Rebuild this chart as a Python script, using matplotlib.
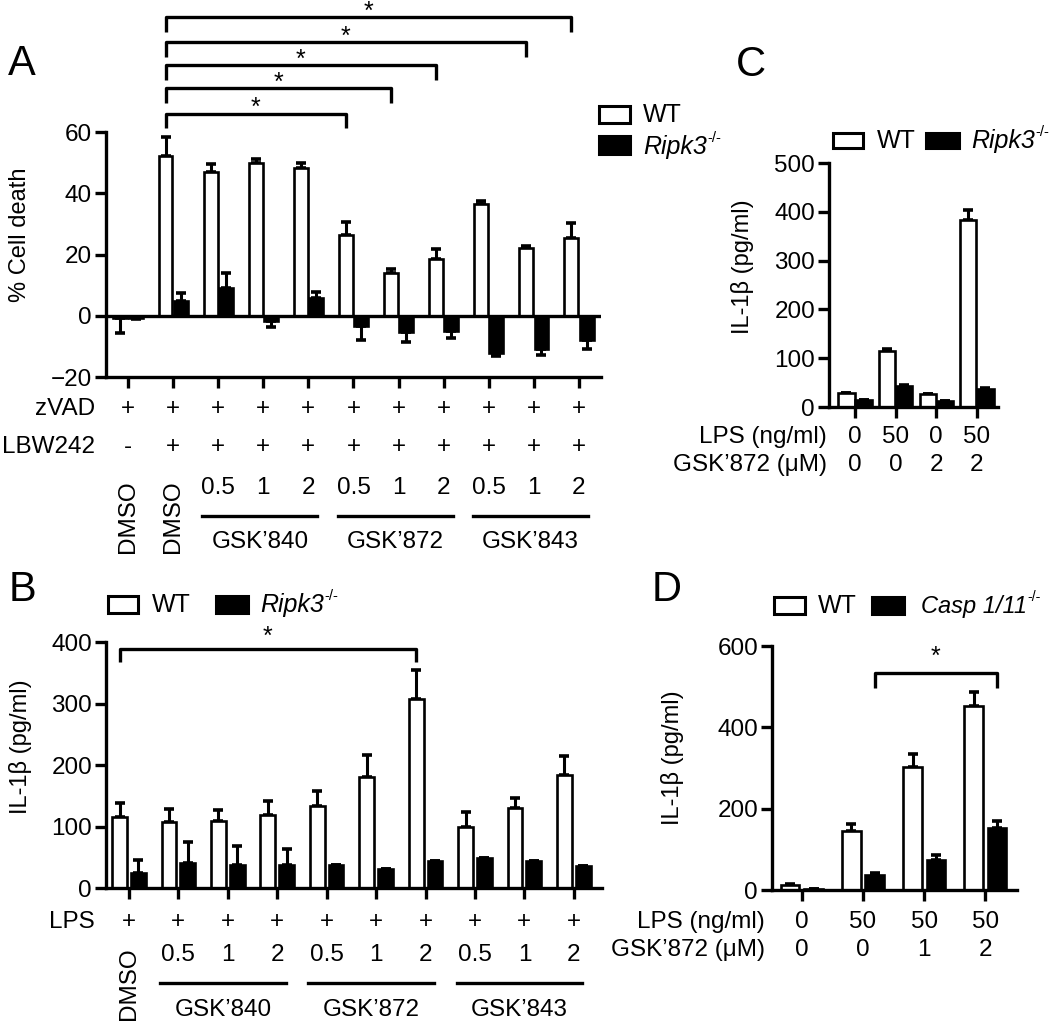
import matplotlib.pyplot as plt
from matplotlib.patches import Rectangle
from matplotlib.transforms import blended_transform_factory
import numpy as np

plt.rcParams['font.family'] = ['Liberation Sans', 'DejaVu Sans']

W, H = 1050, 1021

# ---- panel A: % cell death ----
a_wt = [-0.8, 52.2, 47.0, 50.0, 48.1, 26.4, 14.1, 18.5, 36.4, 22.0, 25.3]
a_wt_err = [4.7, 6.2, 2.4, 1.3, 1.9, 4.3, 1.1, 3.2, 1.1, 0.8, 5.1]
a_ko = [-0.7, 4.7, 9.1, -1.8, 5.8, -3.5, -5.3, -5.1, -12.2, -11.0, -7.8]
a_ko_err = [0.3, 2.8, 4.9, 1.8, 1.8, 4.3, 3.3, 2.2, 1.0, 1.7, 2.9]
a_zvad = ['+'] * 11
a_lbw = ['-'] + ['+'] * 10
a_dose = ['', '', '0.5', '1', '2', '0.5', '1', '2', '0.5', '1', '2']
a_brackets = [(1, 5, 66.0), (1, 6, 74.3), (1, 7, 81.8), (1, 9, 89.3), (1, 10, 97.5)]

# ---- panel B: IL-1b, inhibitors ----
b_wt = [115, 107, 109, 119, 133, 181, 308, 100, 130, 183]
b_wt_err = [24, 21, 18, 22, 25, 35, 46, 23, 17, 31]
b_ko = [25, 41, 37, 38, 37, 31, 44, 49, 44, 35]
b_ko_err = [20, 34, 32, 26, 0, 0, 0, 0, 0, 0]
b_lps = ['+'] * 10
b_dose = ['', '0.5', '1', '2', '0.5', '1', '2', '0.5', '1', '2']
b_brackets = [(0, 6, 389)]

# ---- panel C ----
c_wt = [29, 115, 26, 384]
c_wt_err = [0, 4, 0, 19]
c_ko = [14, 43, 12, 36]
c_ko_err = [0, 2, 0, 2]
c_lps = ['0', '50', '0', '50']
c_gsk = ['0', '0', '2', '2']

# ---- panel D ----
d_wt = [12, 145, 302, 453]
d_wt_err = [2, 18, 33, 33]
d_ko = [2, 37, 75, 153]
d_ko_err = [0, 4, 11, 17]
d_lps = ['0', '50', '50', '50']
d_gsk = ['0', '0', '1', '2']
d_brackets = [(1, 3, 534)]

groups = ["GSK\u2019840", "GSK\u2019872", "GSK\u2019843"]

TICK = 17.5
ROW = 17.5
YLAB = 17
LEG = 18
LET = 30
LW = 2.4

fig = plt.figure(figsize=(W / 100, H / 100), dpi=100)
renderer = fig.canvas.get_renderer()


def fx(px):
    return px / W


def fy(py):
    return 1 - py / H


def make_ax(left, right, top, bottom):
    ax = fig.add_axes([fx(left), fy(bottom), (right - left) / W, (bottom - top) / H])
    for s in ['top', 'right']:
        ax.spines[s].set_visible(False)
    for s in ['left', 'bottom']:
        ax.spines[s].set_linewidth(LW)
    ax.tick_params(axis='y', length=8, width=LW, labelsize=TICK, pad=2)
    ax.tick_params(axis='x', length=8, width=LW, labelbottom=False)
    ax.patch.set_alpha(0)
    return ax


def draw_bars(ax, wt, wt_err, ko, ko_err, off, width):
    x = np.arange(len(wt))
    for xs, vals, errs, fc in [(x - off, wt, wt_err, 'white'), (x + off, ko, ko_err, 'black')]:
        vals = np.array(vals, float)
        errs = np.array(errs, float)
        lower = np.where(vals < 0, errs, 0)
        upper = np.where(vals >= 0, errs, 0)
        ax.errorbar(xs, vals, yerr=[lower, upper], fmt='none', ecolor='black',
                    elinewidth=2.2, capsize=3.5, capthick=2.6, zorder=1)
        ax.bar(xs, vals, width, color=fc, edgecolor='black', linewidth=1.9, zorder=2)
    ax.set_xticks(x)


def bracket(ax, x1, x2, y, leg, star_dy):
    ax.plot([x1, x1, x2, x2], [y - leg, y, y, y - leg], color='black', lw=LW,
            clip_on=False, solid_capstyle='butt')
    ax.text((x1 + x2) / 2, y + star_dy, '*', ha='center', va='center', fontsize=18, clip_on=False)


def rows(ax, items, label_x):
    tr = blended_transform_factory(ax.transData, fig.transFigure)
    for py, title, vals in items:
        fig.text(fx(label_x), fy(py), title, ha='right', va='center', fontsize=ROW)
        for i, v in enumerate(vals):
            if v:
                ax.text(i, fy(py), v, transform=tr, ha='center', va='center', fontsize=ROW)


def underlines(ax, py_line, py_text, starts, lo, hi):
    tr = blended_transform_factory(ax.transData, fig.transFigure)
    for s, name in zip(starts, groups):
        x1, x2 = s + lo, s + 2 + hi
        ax.plot([x1, x2], [fy(py_line)] * 2, transform=tr, color='black', lw=LW, clip_on=False)
        ax.text((x1 + x2) / 2, fy(py_text), name, transform=tr, ha='center', va='center', fontsize=ROW)


def legend_box(x0, x1, y0, y1, fc):
    fig.add_artist(Rectangle((fx(x0), fy(y1)), (x1 - x0) / W, (y1 - y0) / H,
                             transform=fig.transFigure, facecolor=fc, edgecolor='black', lw=2.2))


def ylabel(px, py, s):
    fig.text(fx(px), fy(py), s, rotation=90, ha='center', va='center', fontsize=YLAB)


def italic_sup(px, py, main, size):
    # italic gene name followed by a small upright "-/-"
    t = fig.text(fx(px), fy(py), main, style='italic', ha='left', va='center', fontsize=size)
    bb = t.get_window_extent(renderer)
    fig.text(bb.x1 / W + 0.0005, fy(py - 9), '-/-', ha='left', va='center', fontsize=size * 0.6)


# ================= A =================
axA = make_ax(106, 601, 132, 377)
draw_bars(axA, a_wt, a_wt_err, a_ko, a_ko_err, 0.17, 0.31)
axA.set_xlim(-0.49, 10.49)
axA.set_ylim(-20, 60)
axA.set_yticks([-20, 0, 20, 40, 60])
axA.axhline(0, color='black', lw=LW, zorder=3)
ylabel(20, 235, '% Cell death')
for i1, i2, y in a_brackets:
    bracket(axA, i1 - 0.17, i2 - 0.17, y, 4.8, 1.8)
rows(axA, [(409, 'zVAD', a_zvad), (447, 'LBW242', a_lbw), (488, '', a_dose)], 95)
trA = blended_transform_factory(axA.transData, fig.transFigure)
for i in [0, 1]:
    axA.text(i, fy(517), 'DMSO', transform=trA, rotation=90, ha='center', va='center', fontsize=ROW)
underlines(axA, 516, 542, [2, 5, 8], -0.35, 0.2)
legend_box(599, 630, 106, 123, 'white')
legend_box(599, 630, 136, 154, 'black')
fig.text(fx(643), fy(115), 'WT', ha='left', va='center', fontsize=LEG)
italic_sup(643, 147, 'Ripk3', LEG)
fig.text(fx(22), fy(64), 'A', ha='center', va='center', fontsize=LET)

# ================= B =================
axB = make_ax(106, 602, 642, 888)
draw_bars(axB, b_wt, b_wt_err, b_ko, b_ko_err, 0.19, 0.3)
axB.set_xlim(-0.465, 9.57)
axB.set_ylim(0, 400)
axB.set_yticks([0, 100, 200, 300, 400])
ylabel(20, 747, 'IL-1\u03b2 (pg/ml)')
for i1, i2, y in b_brackets:
    bracket(axB, i1 - 0.19, i2 - 0.19, y, 22, 20)
rows(axB, [(922, 'LPS', b_lps), (955, '', b_dose)], 95)
trB = blended_transform_factory(axB.transData, fig.transFigure)
axB.text(0, fy(984), 'DMSO', transform=trB, rotation=90, ha='center', va='center', fontsize=ROW)
underlines(axB, 983, 1010, [1, 4, 7], -0.37, 0.17)
legend_box(108, 138, 596, 613, 'white')
legend_box(216, 248, 596, 613, 'black')
fig.text(fx(152), fy(605), 'WT', ha='left', va='center', fontsize=LEG)
italic_sup(260, 605, 'Ripk3', LEG)
fig.text(fx(22), fy(590), 'B', ha='center', va='center', fontsize=LET)

# ================= C =================
axC = make_ax(829, 998, 163, 407)
draw_bars(axC, c_wt, c_wt_err, c_ko, c_ko_err, 0.21, 0.4)
axC.set_xlim(-0.64, 3.52)
axC.set_ylim(0, 500)
axC.set_yticks([0, 100, 200, 300, 400, 500])
ylabel(742, 267, 'IL-1\u03b2 (pg/ml)')
rows(axC, [(437, 'LPS (ng/ml)', c_lps), (465, 'GSK\u2019872 (\u03bcM)', c_gsk)], 827)
legend_box(833, 863, 133, 148, 'white')
legend_box(926, 959, 133, 148, 'black')
fig.text(fx(877), fy(141), 'WT', ha='left', va='center', fontsize=LEG)
italic_sup(971, 141, 'Ripk3', LEG)
fig.text(fx(751), fy(65), 'C', ha='center', va='center', fontsize=LET)

# ================= D =================
axD = make_ax(772, 1017, 646, 890)
draw_bars(axD, d_wt, d_wt_err, d_ko, d_ko_err, 0.19, 0.3)
axD.set_xlim(-0.49, 3.52)
axD.set_ylim(0, 600)
axD.set_yticks([0, 200, 400, 600])
ylabel(673, 758, 'IL-1\u03b2 (pg/ml)')
for i1, i2, y in d_brackets:
    bracket(axD, i1 + 0.19, i2 + 0.19, y, 37, 40)
rows(axD, [(922, 'LPS (ng/ml)', d_lps), (950, 'GSK\u2019872 (\u03bcM)', d_gsk)], 765)
legend_box(774, 805, 597, 614, 'white')
legend_box(872, 904, 597, 614, 'black')
fig.text(fx(818), fy(606), 'WT', ha='left', va='center', fontsize=LEG)
italic_sup(921, 606, 'Casp 1/11', 17)
fig.text(fx(667), fy(590), 'D', ha='center', va='center', fontsize=LET)

fig.savefig('out.png', dpi=100)
